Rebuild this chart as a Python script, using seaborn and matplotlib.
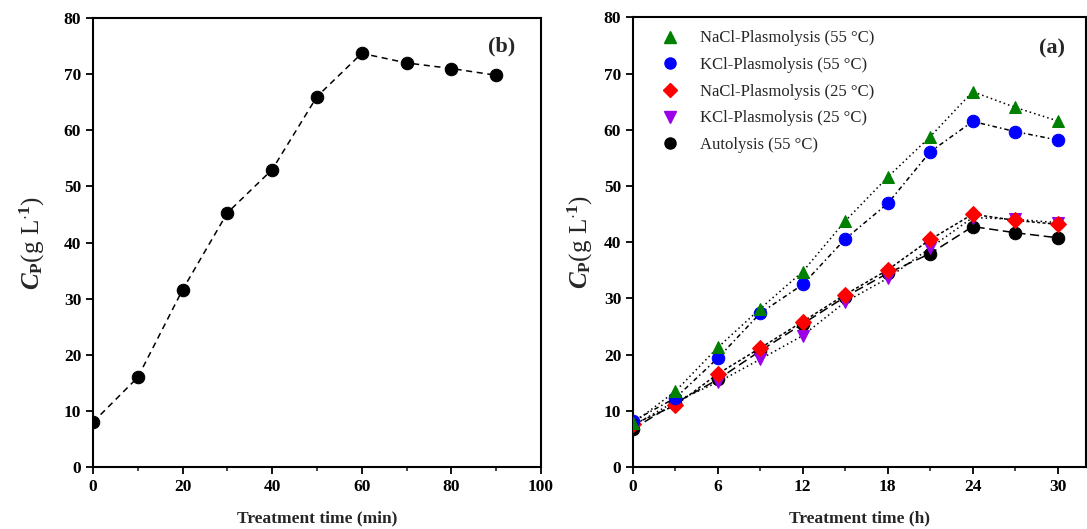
import seaborn as sns
import matplotlib.pyplot as plt
from matplotlib.lines import Line2D
from matplotlib.ticker import MultipleLocator
import pandas as pd

# panel (b): treatment time in minutes
time_min = [0, 10, 20, 30, 40, 50, 60, 70, 80, 90]
cp_b = [8.0, 16.0, 31.6, 45.3, 53.0, 66.0, 73.7, 72.0, 71.0, 69.8]

# panel (a): treatment time in hours
time_h = [0, 3, 6, 9, 12, 15, 18, 21, 24, 27, 30]
nacl_55 = [7.8, 13.5, 21.3, 28.2, 34.8, 43.8, 51.6, 58.8, 66.8, 64.0, 61.6]
kcl_55 = [8.2, 12.3, 19.4, 27.4, 32.5, 40.6, 46.9, 56.1, 61.5, 59.7, 58.2]
nacl_25 = [7.6, 11.0, 16.6, 21.2, 25.9, 30.7, 35.1, 40.5, 45.0, 43.9, 43.2]
kcl_25 = [7.4, 11.7, 15.1, 19.2, 23.4, 29.4, 33.6, 39.0, 44.4, 44.1, 43.5]
autolysis = [6.8, 11.4, 15.6, 20.7, 25.5, 30.3, 34.5, 38.0, 42.8, 41.7, 40.8]

labels = ['NaCl-Plasmolysis (55 °C)', 'KCl-Plasmolysis (55 °C)',
          'NaCl-Plasmolysis (25 °C)', 'KCl-Plasmolysis (25 °C)',
          'Autolysis (55 °C)']

sns.set_style('ticks')
plt.rcParams['font.family'] = ['Liberation Serif', 'DejaVu Serif']
plt.rcParams['mathtext.fontset'] = 'custom'
plt.rcParams['mathtext.rm'] = 'Liberation Serif:weight=bold'
plt.rcParams['mathtext.it'] = 'Liberation Serif:style=italic:weight=bold'
plt.rcParams['mathtext.bf'] = 'Liberation Serif:weight=bold'

fig = plt.figure(figsize=(10.87, 5.29), dpi=100)
ax_b = fig.add_axes([0.0856, 0.117, 0.412, 0.849])
ax_a = fig.add_axes([0.5823, 0.117, 0.4167, 0.850])

# ---- panel (b)
df_b = pd.DataFrame({'t': time_min, 'cp': cp_b})
sns.lineplot(data=df_b, x='t', y='cp', ax=ax_b, color='black', linestyle=(0, (4, 3)),
             linewidth=1.1, marker='o', markersize=9, markeredgecolor='black')
ax_b.set_xlim(0, 100)
ax_b.set_ylim(0, 80)
ax_b.xaxis.set_major_locator(MultipleLocator(20))
ax_b.xaxis.set_minor_locator(MultipleLocator(10))
ax_b.yaxis.set_major_locator(MultipleLocator(10))
ax_b.set_xlabel('Treatment time (min)', fontsize=12.5, fontweight='bold', labelpad=11)
ax_b.set_ylabel(r'$C_\mathrm{P}$(g L$^{\cdot 1}$)', fontsize=18, labelpad=12)
ax_b.text(0.913, 0.9375, '(b)', transform=ax_b.transAxes, fontsize=16,
          fontweight='bold', ha='center', va='center')

# ---- panel (a)
series = [
    (nacl_55, '#008000', '^', (0, (1, 2)), 9, 5),
    (kcl_55, '#0000ff', 'o', (0, (3, 2, 1, 2)), 9, 4),
    (nacl_25, '#ff0000', 'D', (0, (2, 1.5)), 8, 3),
    (kcl_25, '#9b00e8', 'v', (0, (1, 2)), 9, 2),
    (autolysis, '#000000', 'o', (0, (6, 3)), 9, 1),
]
handles = []
for vals, col, mk, ls, ms, z in series:
    df = pd.DataFrame({'t': time_h, 'cp': vals})
    sns.lineplot(data=df, x='t', y='cp', ax=ax_a, color='black', linestyle=ls,
                 linewidth=1.1, marker=mk, markersize=ms, markerfacecolor=col,
                 markeredgecolor=col, zorder=z)
    handles.append(Line2D([], [], linestyle='none', marker=mk, markersize=ms - 1,
                          markerfacecolor=col, markeredgecolor=col))
ax_a.set_xlim(0, 32)
ax_a.set_ylim(0, 80)
ax_a.xaxis.set_major_locator(MultipleLocator(6))
ax_a.xaxis.set_minor_locator(MultipleLocator(3))
ax_a.yaxis.set_major_locator(MultipleLocator(10))
ax_a.set_xlabel('Treatment time (h)', fontsize=12.5, fontweight='bold', labelpad=11)
ax_a.set_ylabel(r'$C_\mathrm{P}$(g L$^{\cdot 1}$)', fontsize=18, labelpad=6)
ax_a.text(0.925, 0.931, '(a)', transform=ax_a.transAxes, fontsize=16,
          fontweight='bold', ha='center', va='center')
ax_a.legend(handles, labels, loc='upper left', bbox_to_anchor=(0.02, 0.997),
            frameon=False, fontsize=12, handletextpad=0.8, labelspacing=0.64,
            borderaxespad=0.3)

for ax in (ax_b, ax_a):
    for sp in ax.spines.values():
        sp.set_linewidth(1.5)
        sp.set_color('black')
    ax.tick_params(axis='both', which='major', direction='out', length=5, width=1.3,
                   labelsize=12.5, colors='black')
    ax.tick_params(axis='both', which='minor', direction='out', length=3, width=1.2)
    for lab in ax.get_xticklabels() + ax.get_yticklabels():
        lab.set_fontweight('bold')

fig.savefig('out.png', dpi=100)
